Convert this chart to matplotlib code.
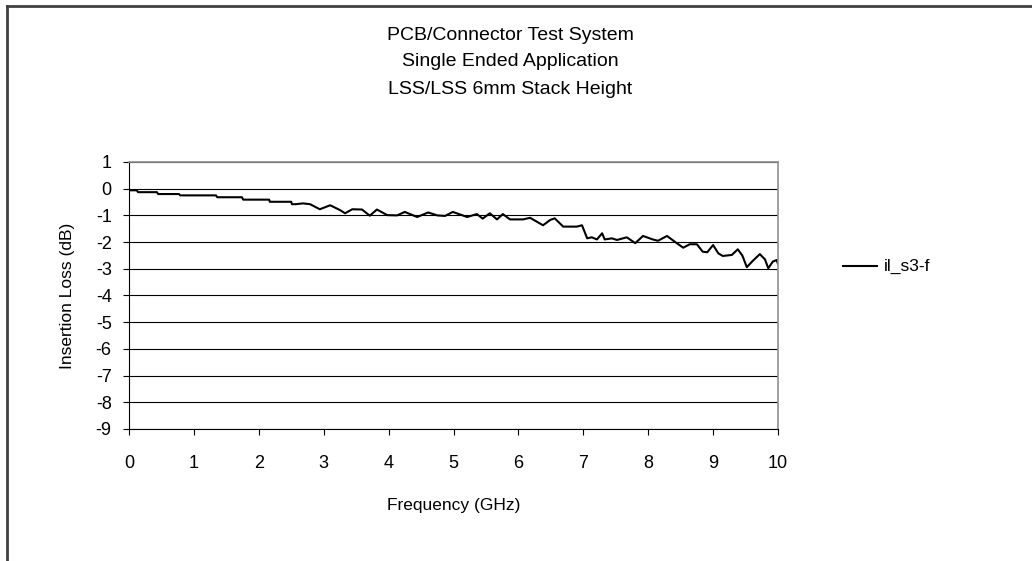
import numpy as np
import matplotlib.pyplot as plt
from matplotlib.lines import Line2D

plt.rcParams['font.family'] = ['Liberation Sans', 'DejaVu Sans']
plt.rcParams['axes.unicode_minus'] = False

# il_s3-f (GHz, dB)
freq = [0.00, 0.12, 0.14, 0.43, 0.45, 0.77, 0.79, 1.34, 1.36, 1.74, 1.76,
        2.16, 2.17, 2.50, 2.51, 2.57, 2.68, 2.79, 2.94, 3.10, 3.25, 3.33,
        3.44, 3.59, 3.71, 3.82, 3.98, 4.13, 4.25, 4.44, 4.61, 4.75, 4.87,
        4.99, 5.21, 5.36, 5.45, 5.56, 5.67, 5.76, 5.87, 6.07, 6.18, 6.38,
        6.49, 6.56, 6.69, 6.90, 6.98, 7.06, 7.13, 7.21, 7.29, 7.33, 7.44,
        7.52, 7.67, 7.80, 7.92, 8.07, 8.15, 8.29, 8.44, 8.54, 8.64, 8.75,
        8.84, 8.91, 9.00, 9.08, 9.15, 9.29, 9.38, 9.45, 9.52, 9.60, 9.72,
        9.80, 9.85, 9.92, 9.98, 10.0]
il_s3_f = [-0.06, -0.06, -0.13, -0.13, -0.20, -0.20, -0.25, -0.25, -0.32, -0.32, -0.41,
           -0.41, -0.49, -0.49, -0.58, -0.58, -0.55, -0.58, -0.77, -0.62, -0.80, -0.92,
           -0.77, -0.78, -1.01, -0.78, -0.99, -1.00, -0.87, -1.06, -0.89, -1.00, -1.02,
           -0.87, -1.06, -0.95, -1.12, -0.92, -1.15, -0.95, -1.15, -1.15, -1.09, -1.37,
           -1.17, -1.11, -1.42, -1.42, -1.37, -1.86, -1.82, -1.90, -1.67, -1.90, -1.86,
           -1.92, -1.82, -2.04, -1.77, -1.90, -1.95, -1.77, -2.04, -2.21, -2.08, -2.08,
           -2.36, -2.38, -2.11, -2.42, -2.52, -2.48, -2.27, -2.50, -2.94, -2.73, -2.45,
           -2.65, -2.98, -2.73, -2.67, -2.82]

title_lines = ["PCB/Connector Test System", "Single Ended Application",
               "LSS/LSS 6mm Stack Height"]

fig = plt.figure(figsize=(10.32, 5.61), dpi=100)
ax = fig.add_axes([129/1032, 1 - 429/561, (778 - 129)/1032, (429 - 162)/561])

ax.plot(freq, il_s3_f, color='black', lw=1.5, label='il_s3-f')

ax.set_xlim(0, 10)
ax.set_ylim(-9, 1)
ax.set_xticks(range(0, 11))
ax.set_yticks(range(-9, 2))
ax.yaxis.grid(True, color='black', lw=0.8)
ax.set_axisbelow(True)
ax.tick_params(direction='out', length=4.5, width=0.8, labelsize=13, colors='black')
ax.tick_params(axis='x', pad=14)
ax.tick_params(axis='y', pad=8)
for s in ['top', 'right']:
    ax.spines[s].set_color('#909090')
    ax.spines[s].set_linewidth(1.2)
for s in ['left', 'bottom']:
    ax.spines[s].set_color('black')
    ax.spines[s].set_linewidth(0.8)

ax.set_xlabel("Frequency (GHz)", fontsize=12.5, labelpad=19)
ax.set_ylabel("Insertion Loss (dB)", fontsize=12.5, labelpad=15)

for i, t in enumerate(title_lines):
    fig.text(510/1032, 1 - (35 + 27*i)/561, t, ha='center', va='center', fontsize=14)

# legend drawn by hand to sit outside the plot area
fig.add_artist(Line2D([843/1032, 877/1032], [1 - 266/561]*2, color='black', lw=1.5))
fig.text(884/1032, 1 - 266/561, "il_s3-f", ha='left', va='center', fontsize=12.5)

# chart-area frame (cropped at right and bottom)
fig.add_artist(Line2D([7/1032, 7/1032], [0, 1 - 6/561], color='#404040', lw=2))
fig.add_artist(Line2D([7/1032, 1], [1 - 6/561]*2, color='#404040', lw=2))

fig.savefig('out.png', dpi=100)
